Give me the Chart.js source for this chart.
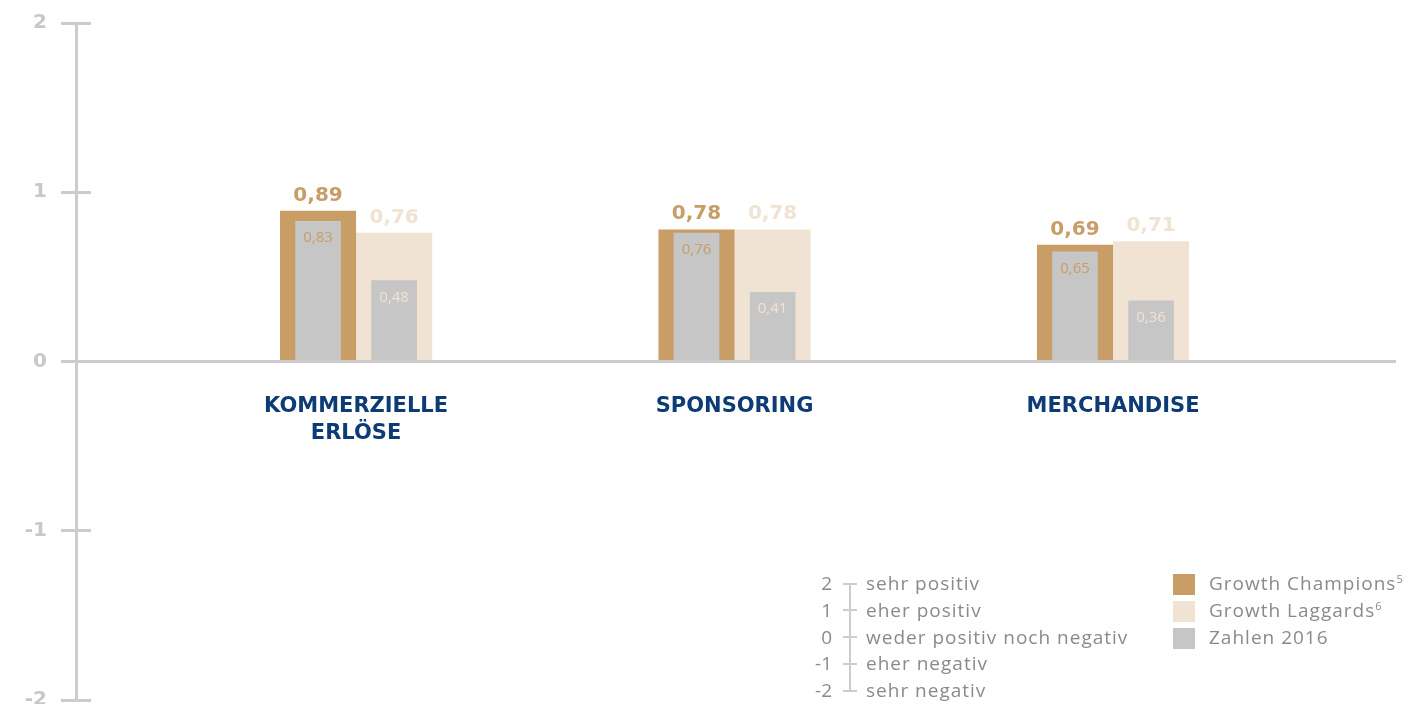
<!DOCTYPE html>
<html lang="de">
<head>
<meta charset="utf-8">
<title>Erlöse – Growth Champions und Growth Laggards</title>
<script src="https://cdn.jsdelivr.net/npm/chart.js@4/dist/chart.umd.min.js"></script>
<style>
  html, body { margin: 0; padding: 0; background: #fff; overflow: hidden; }
  #wrap { position: relative; width: 1423px; height: 716px; }
  #chart { position: absolute; left: 0; top: 0; }
  .key { position: absolute; left: 0; top: 0; font-family: "Open Sans", sans-serif; font-size: 19px; letter-spacing: 1px; color: #8a8a8a; line-height: 27px; white-space: nowrap; }
  .key sup { font-size: 11px; vertical-align: 7px; line-height: 0; letter-spacing: 0; }
  .num { position: absolute; width: 40px; text-align: right; letter-spacing: 0; }
  .txt { position: absolute; }
  .rail { position: absolute; background: #cccccc; }
  .swatch { position: absolute; width: 22px; height: 21px; }
</style>
</head>
<body>
<div id="wrap">
  <canvas id="chart"></canvas>
  <div id="scaleKey" class="key"></div>
  <div id="seriesKey" class="key"></div>
</div>
<script>
// Bewertung der Erlösquellen (-2 sehr negativ ... 2 sehr positiv)
const categories = [["KOMMERZIELLE", "ERLÖSE"], ["SPONSORING"], ["MERCHANDISE"]];
const champions = [0.89, 0.78, 0.69];
const laggards = [0.76, 0.78, 0.71];
const champions2016 = [0.83, 0.76, 0.65];
const laggards2016 = [0.48, 0.41, 0.36];

const yTicks = [2, 1, 0, -1, -2];
const scaleTexts = ["sehr positiv", "eher positiv", "weder positiv noch negativ", "eher negativ", "sehr negativ"];
const seriesNames = ["Growth Champions", "Growth Laggards", "Zahlen 2016"];
const seriesNotes = ["5", "6", ""];

const TAN = "#c99d66";
const BEIGE = "#f0e3d3";
const GREY = "#c6c6c6";
const AXIS = "#cccccc";
const NAVY = "#0d3b76";

// bars sit on category positions 1..n of a linear x axis
const toPoints = values => values.map((v, i) => ({ x: i + 1, y: v }));
const fmt = v => v.toFixed(2).replace(".", ",");

// right half of the y tick marks (Chart.js only draws the outer half)
const tickCross = {
  id: "tickCross",
  afterDraw(chart) {
    const y = chart.scales.y;
    const ctx = chart.ctx;
    ctx.save();
    ctx.strokeStyle = AXIS;
    ctx.lineWidth = 3;
    y.ticks.forEach(t => {
      const py = Math.round(y.getPixelForValue(t.value) - 1.5) + 1.5;
      ctx.beginPath();
      ctx.moveTo(y.right, py);
      ctx.lineTo(y.right + 15, py);
      ctx.stroke();
    });
    ctx.restore();
  }
};

const valueLabels = {
  id: "valueLabels",
  afterDatasetsDraw(chart) {
    const ctx = chart.ctx;
    chart.data.datasets.forEach((ds, di) => {
      chart.getDatasetMeta(di).data.forEach((bar, i) => {
        const text = fmt(ds.data[i].y);
        ctx.save();
        ctx.fillStyle = ds.labelColor;
        ctx.textAlign = "center";
        if (ds.labelInside) {
          ctx.font = '15px "Open Sans"';
          ctx.textBaseline = "middle";
          ctx.fillText(text, bar.x, bar.y + 17);
        } else {
          ctx.font = 'bold 20px "DejaVu Sans"';
          ctx.textBaseline = "alphabetic";
          ctx.fillText(text, bar.x, bar.y - 10);
        }
        ctx.restore();
      });
    });
  }
};

new Chart(document.getElementById("chart"), {
  type: "bar",
  data: {
    datasets: [
      { label: "Zahlen 2016", data: toPoints(champions2016), backgroundColor: GREY, stack: "champ",
        barPercentage: 0.6, order: 0, labelColor: TAN, labelInside: true },
      { label: "Zahlen 2016", data: toPoints(laggards2016), backgroundColor: GREY, stack: "lag",
        barPercentage: 0.6, order: 0, labelColor: BEIGE, labelInside: true },
      { label: "Growth Champions", data: toPoints(champions), backgroundColor: TAN, stack: "champ",
        barPercentage: 1, order: 1, labelColor: TAN },
      { label: "Growth Laggards", data: toPoints(laggards), backgroundColor: BEIGE, stack: "lag",
        barPercentage: 1, order: 1, labelColor: BEIGE }
    ]
  },
  options: {
    responsive: true,
    maintainAspectRatio: false,
    animation: false,
    categoryPercentage: 0.402,
    layout: { padding: { top: 23, right: 28, bottom: 16, left: 0 } },
    plugins: { legend: { display: false }, tooltip: { enabled: false } },
    scales: {
      x: {
        type: "linear",
        position: { y: 0 },
        min: 0.26,
        max: 3.745,
        offset: false,
        grid: { display: false },
        border: { display: true, color: AXIS, width: 3 },
        afterBuildTicks: scale => { scale.ticks = categories.map((c, i) => ({ value: i + 1 })); },
        ticks: {
          autoSkip: false,
          maxRotation: 0,
          padding: 24,
          color: NAVY,
          font: { family: "DejaVu Sans", weight: "bold", size: 21, lineHeight: 1.28 },
          callback: v => categories[v - 1]
        }
      },
      y: {
        min: -2,
        max: 2,
        stacked: false,
        afterFit: scale => {
          scale.width = 76;
          // let the layout padding alone decide where the axis ends
          scale.paddingTop = 0;
          scale.paddingBottom = 0;
        },
        afterBuildTicks: scale => { scale.ticks = yTicks.map(v => ({ value: v })); },
        ticks: {
          padding: 14,
          color: "#c8c8c8",
          font: { family: "DejaVu Sans", weight: "bold", size: 20 },
          callback: v => String(v)
        },
        grid: { drawOnChartArea: false, drawTicks: true, tickLength: 15, color: AXIS, lineWidth: 3 },
        border: { display: true, color: AXIS, width: 3 }
      }
    }
  },
  plugins: [tickCross, valueLabels]
});

const rowTop = i => 570 + i * 26.75;

// key for the rating scale
let html = '<div class="rail" style="left:849px;top:583px;width:2px;height:107px"></div>';
yTicks.forEach((v, i) => {
  const t = rowTop(i);
  html += `<div class="num" style="left:792px;top:${t}px">${v}</div>`;
  html += `<div class="rail" style="left:843px;top:${t + 12.5}px;width:14px;height:2px"></div>`;
  html += `<div class="txt" style="left:866px;top:${t}px">${scaleTexts[i]}</div>`;
});
document.getElementById("scaleKey").innerHTML = html;

// key for the series colours
const swatches = [TAN, BEIGE, GREY];
document.getElementById("seriesKey").innerHTML = seriesNames.map((name, i) => {
  const t = rowTop(i);
  const note = seriesNotes[i] ? `<sup>${seriesNotes[i]}</sup>` : "";
  return `<div class="swatch" style="left:1173px;top:${t + 4}px;background:${swatches[i]}"></div>` +
         `<div class="txt" style="left:1209px;top:${t}px">${name}${note}</div>`;
}).join("");
</script>
</body>
</html>
